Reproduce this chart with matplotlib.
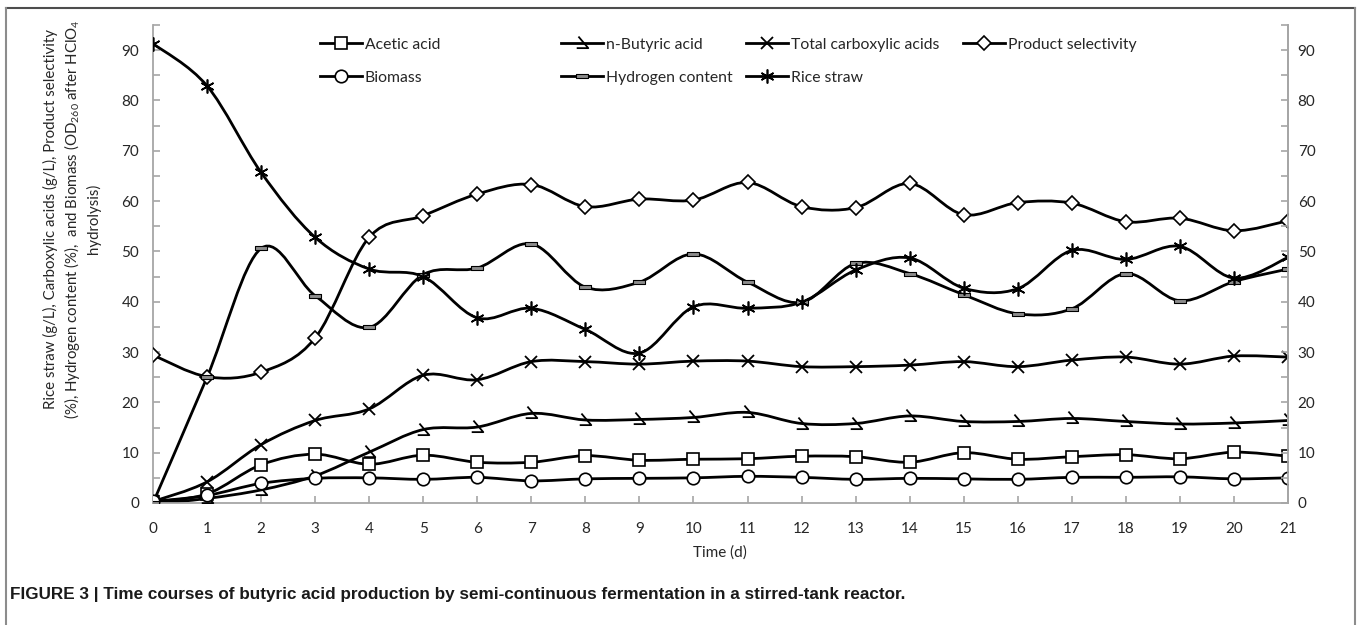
# encoding="utf-8"
# butyric acid fermentation time course (Fig. 3 remake)

import numpy as np
import matplotlib
matplotlib.use("Agg")
import matplotlib.pyplot as plt
from matplotlib.path import Path
from matplotlib.patches import PathPatch
from matplotlib.lines import Line2D

# ---- data ----
days = list(range(22))
acetic = [0.2, 1.8, 7.6, 9.7, 7.7, 9.5, 8.1, 8.1, 9.4, 8.5, 8.7, 8.8, 9.3, 9.2, 8.1, 10.0, 8.7, 9.2, 9.6, 8.8, 10.1, 9.3]
butyric = [-0.2, 0.9, 2.6, 5.4, 10.1, 14.6, 15.1, 17.8, 16.5, 16.6, 17.0, 18.0, 15.8, 15.8, 17.3, 16.2, 16.2, 16.8, 16.2, 15.7, 15.9, 16.4]
total = [0.3, 4.2, 11.6, 16.4, 18.7, 25.4, 24.5, 28.1, 28.1, 27.6, 28.2, 28.2, 27.1, 27.1, 27.4, 28.1, 27.1, 28.4, 29.0, 27.6, 29.2, 29.0]
selectivity = [29.4, 25.1, 26.0, 32.8, 52.8, 57.1, 61.4, 63.3, 58.9, 60.4, 60.2, 63.7, 58.9, 58.7, 63.5, 57.3, 59.7, 59.6, 55.9, 56.6, 54.1, 56.1]
biomass = [0.3, 1.5, 3.9, 4.9, 5.0, 4.7, 5.1, 4.4, 4.8, 4.9, 5.0, 5.3, 5.1, 4.7, 4.9, 4.8, 4.7, 5.1, 5.1, 5.2, 4.8, 5.0]
hydrogen = [0.0, 25.0, 50.6, 41.2, 34.9, 45.4, 46.7, 51.5, 42.9, 43.9, 49.5, 43.9, 39.9, 47.6, 45.6, 41.4, 37.6, 38.6, 45.6, 40.2, 44.0, 46.5]
rice_straw = [91.3, 82.9, 65.7, 52.8, 46.5, 45.0, 36.8, 38.7, 34.5, 29.8, 39.0, 38.7, 39.9, 46.3, 48.7, 42.7, 42.6, 50.2, 48.4, 51.0, 44.7, 48.8]

W, H = 1358, 625

plt.rcParams['font.family'] = ['Lato', 'DejaVu Sans']
plt.rcParams['mathtext.fontset'] = 'custom'
plt.rcParams['mathtext.rm'] = 'Lato'
plt.rcParams['mathtext.it'] = 'Lato'


def px(x, y):
    # pixel position (from top-left) -> figure fraction
    return x / W, 1 - y / H


def smooth_path(x, y):
    # Catmull-Rom style smoothing, like Excel's "smoothed line"
    pts = np.column_stack([x, y]).astype(float)
    n = len(pts)
    verts = [pts[0]]
    codes = [Path.MOVETO]
    for i in range(n - 1):
        p0 = pts[i - 1] if i > 0 else pts[i]
        p1 = pts[i]
        p2 = pts[i + 1]
        p3 = pts[i + 2] if i + 2 < n else pts[i + 1]
        verts += [p1 + (p2 - p0) / 6, p2 - (p3 - p1) / 6, p2]
        codes += [Path.CURVE4] * 3
    return Path(verts, codes)


# custom markers
m_butyric = Path([(-0.35, 0.6), (0.5, -0.4), (-0.5, -0.4)], [Path.MOVETO, Path.LINETO, Path.LINETO])
m_hydrogen = Path([(-0.5, -0.14), (0.5, -0.14), (0.5, 0.14), (-0.5, 0.14), (-0.5, -0.14)],
                  [Path.MOVETO, Path.LINETO, Path.LINETO, Path.LINETO, Path.CLOSEPOLY])

styles = {
    "Acetic acid": dict(marker="s", ms=9, mfc="white", mew=1.2),
    "n-Butyric acid": dict(marker=m_butyric, ms=10, mfc="none", mew=1.3),
    "Total carboxylic acids": dict(marker="x", ms=9, mew=1.3),
    "Product selectivity": dict(marker="D", ms=7, mfc="white", mew=1.2),
    "Biomass": dict(marker="o", ms=9, mfc="white", mew=1.2),
    "Hydrogen content": dict(marker=m_hydrogen, ms=9, mfc="#8c8c8c", mew=0.8),
    "Rice straw": dict(marker=(6, 2, 0), ms=10, mew=1.2),
}
series = {
    "Acetic acid": acetic,
    "n-Butyric acid": butyric,
    "Total carboxylic acids": total,
    "Product selectivity": selectivity,
    "Biomass": biomass,
    "Hydrogen content": hydrogen,
    "Rice straw": rice_straw,
}

fig = plt.figure(figsize=(W / 100, H / 100), dpi=100)
l, b = px(153, 503)
r, t = px(1288, 25)
ax = fig.add_axes([l, b, r - l, t - b])

lw = 2.0
for name, vals in series.items():
    ax.add_patch(PathPatch(smooth_path(days, vals), fill=False, ec="black", lw=lw,
                           capstyle="round", joinstyle="round", zorder=2))
    ax.plot(days, vals, ls="none", color="black", mec="black", zorder=3, **styles[name])

ax.set_xlim(0, 21)
ax.set_ylim(0, 95)
ax.set_xticks(days)
ax.set_yticks(range(0, 91, 10))
ax.set_yticks(range(5, 96, 10), minor=True)

grey = "#a6a6a6"
txt = "#262626"
ax.spines["top"].set_visible(False)
for s in ["left", "bottom", "right"]:
    ax.spines[s].set_color(grey)
    ax.spines[s].set_linewidth(1.3)
ax.tick_params(axis="both", which="both", direction="in", color=grey, width=1.2, length=5,
               labelsize=11, labelcolor=txt)
ax.tick_params(axis="x", pad=14)
ax.tick_params(axis="y", pad=10)

ax2 = ax.twinx()
ax2.set_ylim(0, 95)
ax2.set_yticks(range(0, 91, 10))
ax2.set_yticks(range(5, 96, 10), minor=True)
for s in ["top", "left", "bottom"]:
    ax2.spines[s].set_visible(False)
ax2.spines["right"].set_color(grey)
ax2.spines["right"].set_linewidth(1.3)
ax2.tick_params(axis="y", which="both", direction="in", color=grey, width=1.2, length=5,
                labelsize=11, labelcolor=txt, pad=7)

# axis titles
fig.text(*px(720, 553), "Time (d)", ha="center", va="center", fontsize=11, color=txt)
fig.text(*px(72, 219),
         "Rice straw (g/L), Carboxylic acids (g/L), Product selectivity\n"
         "(%), Hydrogen content (%),  and Biomass (OD$_{260}$ after HClO$_4$\n"
         "hydrolysis)",
         rotation=90, ha="center", va="center", multialignment="center",
         fontsize=10.8, color=txt, linespacing=1.3)

# legend, four columns like the Excel one
columns = [["Acetic acid", "Biomass"],
           ["n-Butyric acid", "Hydrogen content"],
           ["Total carboxylic acids", "Rice straw"],
           ["Product selectivity"]]
col_x = [312, 553, 738, 955]
for names, cx in zip(columns, col_x):
    handles = [Line2D([], [], color="black", lw=lw, mec="black", **styles[n]) for n in names]
    leg = fig.legend(handles, names, loc="upper left", bbox_to_anchor=px(cx, 30),
                     frameon=False, borderpad=0, handlelength=2.7, handletextpad=0.15,
                     labelspacing=1.2, fontsize=11.3)
    for tx in leg.get_texts():
        tx.set_color(txt)

# outer frame and caption
fig.add_artist(Line2D([6 / W, 1355 / W], [1 - 8 / H, 1 - 8 / H], transform=fig.transFigure,
                      color="#4d4d4d", lw=1.5))
for xx in (6, 1355):
    fig.add_artist(Line2D([xx / W, xx / W], [0, 1 - 8 / H], transform=fig.transFigure,
                          color="#8c8c8c", lw=1.5))
fig.text(*px(10, 594),
         "FIGURE 3 | Time courses of butyric acid production by semi-continuous fermentation in a stirred-tank reactor.",
         ha="left", va="center", fontsize=12.3, fontweight="bold", color="#1a1a1a",
         family=["Liberation Sans Narrow", "Liberation Sans", "DejaVu Sans"])

fig.savefig("out.png", dpi=100)
